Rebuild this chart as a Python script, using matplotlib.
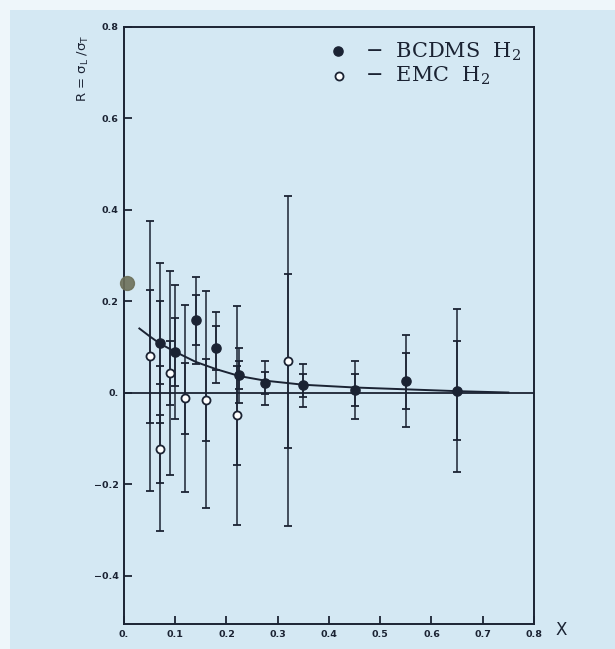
import matplotlib
matplotlib.use("Agg")
import matplotlib.pyplot as plt
from matplotlib.patches import Rectangle

# ---------------- data ----------------
bcdms_x = [0.07, 0.10, 0.14, 0.18, 0.225, 0.275, 0.35, 0.45, 0.55, 0.65]
bcdms_R = [0.110, 0.090, 0.159, 0.099, 0.039, 0.022, 0.017, 0.006, 0.026, 0.005]
bcdms_stat = [0.090, 0.075, 0.055, 0.048, 0.031, 0.024, 0.025, 0.035, 0.061, 0.108]
bcdms_tot = [0.175, 0.147, 0.095, 0.078, 0.060, 0.048, 0.047, 0.063, 0.101, 0.178]

emc_x = [0.05, 0.07, 0.09, 0.12, 0.16, 0.22, 0.32]
emc_R = [0.080, -0.122, 0.044, -0.012, -0.015, -0.049, 0.070]
emc_stat = [0.145, 0.074, 0.070, 0.077, 0.090, 0.108, 0.190]
emc_tot = [0.295, 0.180, 0.223, 0.205, 0.237, 0.240, 0.360]

curve_x = [0.03, 0.05, 0.07, 0.10, 0.14, 0.18, 0.225, 0.275, 0.35, 0.45, 0.55, 0.65, 0.75]
curve_R = [0.141, 0.124, 0.108, 0.090, 0.068, 0.052, 0.037, 0.027, 0.018, 0.012, 0.008, 0.004, 0.001]

extra_x = [0.005]
extra_R = [0.24]

xticks = [0.0, 0.1, 0.2, 0.3, 0.4, 0.5, 0.6, 0.7, 0.8]
xticklabels = ["0.", "0.1", "0.2", "0.3", "0.4", "0.5", "0.6", "0.7", "0.8"]
yticks = [-0.4, -0.2, 0.0, 0.2, 0.4, 0.6, 0.8]
yticklabels = ["\u22120.4", "\u22120.2", "0.", "0.2", "0.4", "0.6", "0.8"]

legend_labels = ["\u2212  BCDMS  H$_2$", "\u2212  EMC  H$_2$"]

# ---------------- style ----------------
plt.rcParams["mathtext.fontset"] = "dejavuserif"
BG = "#d4e8f3"
INK = "#1b2333"

fig = plt.figure(figsize=(6.15, 6.49), dpi=100, facecolor=BG)
# whitish scan margins
fig.patches.append(Rectangle((0, 0), 0.016, 1, transform=fig.transFigure,
                             facecolor="#eef6fa", edgecolor="none", zorder=-1))
fig.patches.append(Rectangle((0, 0.985), 1, 0.015, transform=fig.transFigure,
                             facecolor="#eef6fa", edgecolor="none", zorder=-1))

ax = fig.add_axes([0.2016, 0.0385, 0.6667, 0.9199])
ax.set_facecolor(BG)
ax.set_xlim(0.0, 0.8)
ax.set_ylim(-0.505, 0.8)

for s in ax.spines.values():
    s.set_color(INK)
    s.set_linewidth(1.4)

ax.axhline(0.0, color=INK, lw=1.3, zorder=2)

# curve
ax.plot(curve_x, curve_R, color=INK, lw=1.4, zorder=3)

# error bars: outer (total) with caps, inner (stat) ticks
for xs, ys, st, tt in [(emc_x, emc_R, emc_stat, emc_tot),
                       (bcdms_x, bcdms_R, bcdms_stat, bcdms_tot)]:
    ax.errorbar(xs, ys, yerr=tt, fmt="none", ecolor=INK, elinewidth=1.1,
                capsize=2.8, capthick=1.3, zorder=3)
    ax.errorbar(xs, ys, yerr=st, fmt="none", ecolor=INK, elinewidth=1.1,
                capsize=2.6, capthick=1.3, zorder=3)

ax.plot(emc_x, emc_R, linestyle="none", marker="o", markersize=5.8,
        markerfacecolor="white", markeredgecolor=INK, markeredgewidth=1.3, zorder=4)
ax.plot(bcdms_x, bcdms_R, linestyle="none", marker="o", markersize=6.6,
        markerfacecolor=INK, markeredgecolor=INK, zorder=4)

ax.plot(extra_x, extra_R, linestyle="none", marker="o", markersize=10,
        markerfacecolor="#6d705a", markeredgecolor="#6d705a", alpha=0.9,
        clip_on=False, zorder=5)

# ticks
ax.set_xticks(xticks)
ax.set_xticklabels(xticklabels)
ax.set_yticks(yticks)
ax.set_yticklabels(yticklabels)
ax.tick_params(direction="in", length=6, width=1.3, color=INK,
               labelsize=6.8, labelcolor=INK, pad=4)
for lab in ax.get_xticklabels() + ax.get_yticklabels():
    lab.set_fontweight("bold")

# axis labels
fig.text(83 / 615, 1 - 68 / 649,
         r"R = $\mathregular{\sigma_L}$ /$\mathregular{\sigma_T}$", rotation=90,
         ha="center", va="center", fontsize=9.5, color=INK)
fig.text(561 / 615, 1 - 630 / 649, "X", ha="center", va="center",
         fontsize=12, color=INK)

# legend (hand drawn as in the original)
ax.plot([0.523], [0.959], transform=ax.transAxes, marker="o", markersize=6.6,
        markerfacecolor=INK, markeredgecolor=INK, linestyle="none", clip_on=False)
ax.plot([0.525], [0.918], transform=ax.transAxes, marker="o", markersize=5.8,
        markerfacecolor="white", markeredgecolor=INK, markeredgewidth=1.3,
        linestyle="none", clip_on=False)
ax.text(0.588, 0.959, legend_labels[0], transform=ax.transAxes, ha="left",
        va="center", fontsize=15, family="DejaVu Serif", color=INK)
ax.text(0.588, 0.918, legend_labels[1], transform=ax.transAxes, ha="left",
        va="center", fontsize=15, family="DejaVu Serif", color=INK)

fig.savefig("out.png", dpi=100, facecolor=BG)
